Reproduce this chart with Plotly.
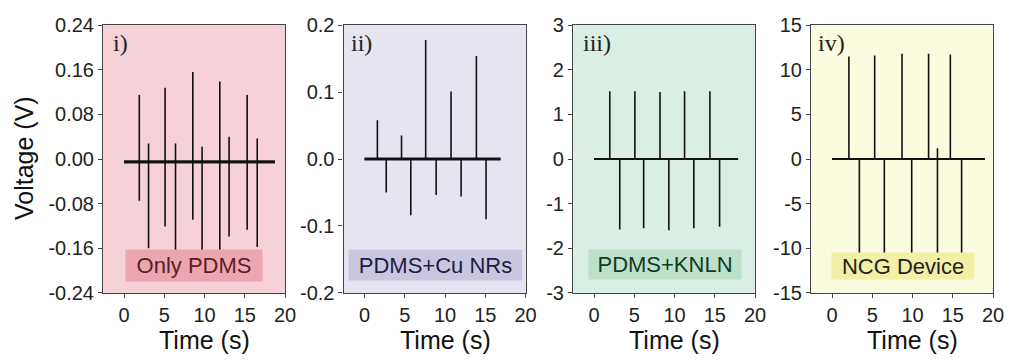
import plotly.graph_objects as go

W, H = 1010, 361

# ---------------- data ----------------
# Panel i) Only PDMS : each spike goes up then down at the same instant
p1_t = [1.9, 3.05, 5.1, 6.4, 8.55, 9.7, 11.9, 13.05, 15.3, 16.55]
p1_up = [0.115, 0.028, 0.128, 0.028, 0.156, 0.022, 0.139, 0.040, 0.115, 0.037]
p1_dn = [-0.075, -0.160, -0.121, -0.175, -0.109, -0.165, -0.165, -0.139, -0.127, -0.158]
p1_base = -0.005
p1_span = [0.0, 18.75]

# Panel ii) PDMS+Cu NRs
p2_t = [1.6, 2.7, 4.6, 5.75, 7.6, 8.9, 10.75, 12.0, 13.9, 15.1]
p2_v = [0.058, -0.050, 0.035, -0.084, 0.178, -0.054, 0.101, -0.056, 0.154, -0.090]
p2_base = 0.0
p2_span = [0.0, 16.9]

# Panel iii) PDMS+KNLN
p3_t = [1.96, 3.2, 5.08, 6.17, 8.2, 9.3, 11.25, 12.4, 14.4, 15.6]
p3_v = [1.52, -1.58, 1.52, -1.55, 1.50, -1.60, 1.52, -1.55, 1.52, -1.52]
p3_base = 0.0
p3_span = [0.0, 17.9]

# Panel iv) NCG Device
p4_t = [2.1, 3.4, 5.3, 6.5, 8.7, 9.9, 12.0, 13.1, 14.7, 16.1]
p4_v = [11.5, -11.0, 11.6, -11.0, 11.8, -11.0, 11.8, -11.0, 11.7, -11.0]
p4_small_t = [13.1]
p4_small_v = [1.2]
p4_base = 0.0
p4_span = [0.0, 19.0]

x_ticks = [0, 5, 10, 15, 20]
y1_ticks = [0.24, 0.16, 0.08, 0.0, -0.08, -0.16, -0.24]
y1_text = ["0.24", "0.16", "0.08", "0.00", "-0.08", "-0.16", "-0.24"]
y2_ticks = [0.2, 0.1, 0.0, -0.1, -0.2]
y2_text = ["0.2", "0.1", "0.0", "-0.1", "-0.2"]
y3_ticks = [3, 2, 1, 0, -1, -2, -3]
y3_text = ["3", "2", "1", "0", "-1", "-2", "-3"]
y4_ticks = [15, 10, 5, 0, -5, -10, -15]
y4_text = ["15", "10", "5", "0", "-5", "-10", "-15"]

panel_tags = ["i)", "ii)", "iii)", "iv)"]
panel_names = ["Only PDMS", "PDMS+Cu NRs", "PDMS+KNLN", "NCG Device"]
bg_colors = ["#f6d2d8", "#e7e4f2", "#dbeee3", "#fafbdf"]
box_colors = ["#eca6b1", "#c9c6e0", "#bde0ca", "#f1f0a6"]
box_text_colors = ["#5b1d27", "#1e1d3d", "#0f3b27", "#222222"]


# ---------------- build traces from event lists ----------------
def spikes_updown(ts, ups, dns, base, span):
    xs, ys = [span[0]], [base]
    for t, u, d in zip(ts, ups, dns):
        xs += [t, t, t, t]
        ys += [base, u, d, base]
    xs.append(span[1]); ys.append(base)
    return xs, ys


def spikes(ts, vs, base, span):
    xs, ys = [span[0]], [base]
    for t, v in zip(ts, vs):
        xs += [t, t, t]
        ys += [base, v, base]
    xs.append(span[1]); ys.append(base)
    return xs, ys


traces = [
    spikes_updown(p1_t, p1_up, p1_dn, p1_base, p1_span),
    spikes(p2_t, p2_v, p2_base, p2_span),
    spikes(p3_t, p3_v, p3_base, p3_span),
    spikes(p4_t + p4_small_t, p4_v + p4_small_v, p4_base, p4_span),
]
base_lines = [(p1_span, p1_base, 3.2), (p2_span, p2_base, 3.0), (p3_span, p3_base, 1.8), (p4_span, p4_base, 1.8)]


def px(xp):
    return xp / W


def py(yp):
    return 1 - yp / H


# ---------------- layout geometry (reference pixels) ----------------
x0_px = [124.0, 364.5, 594.0, 832.0]   # pixel of t = 0 in each panel
px_per_s = 8.05
xr = [-2.6, 20.05]
top_px, bot_px = 25, 293
ydom = [py(bot_px), py(top_px)]

fig = go.Figure()
yspecs = [
    ([-0.2405, 0.2405], y1_ticks, y1_text),
    ([-0.2004, 0.2004], y2_ticks, y2_text),
    ([-3.004, 3.004], y3_ticks, y3_text),
    ([-15.02, 15.02], y4_ticks, y4_text),
]
box_geo = [  # (x_left, x_right, y_top, y_bottom) in pixels
    (126, 262, 250, 281),
    (349, 522, 250, 280),
    (589, 741, 250, 279),
    (832, 974, 253, 279),
]
tag_x = [111, 349, 581, 816]

for i in range(4):
    ax = "" if i == 0 else str(i + 1)
    xs, ys = traces[i]
    (sp, b, wdt) = base_lines[i]
    fig.add_trace(go.Scatter(x=sp, y=[b, b], mode="lines",
                             line=dict(color="#1a1a1a", width=wdt),
                             xaxis="x" + ax, yaxis="y" + ax, showlegend=False, hoverinfo="skip"))
    fig.add_trace(go.Scatter(x=xs, y=ys, mode="lines",
                             line=dict(color="#111111", width=1.6),
                             xaxis="x" + ax, yaxis="y" + ax, showlegend=False))
    left = x0_px[i] + xr[0] * px_per_s
    right = x0_px[i] + xr[1] * px_per_s
    yr, yt, ytt = yspecs[i]
    fig.layout["xaxis" + ax] = dict(
        domain=[px(left), px(right)], range=xr, anchor="y" + ax, automargin=False,
        tickvals=x_ticks, ticks="outside", ticklen=4, tickcolor="#444",
        showline=True, mirror=True, linecolor="#444", linewidth=1.2,
        showgrid=False, zeroline=False, ticklabeloverflow="allow",
        tickfont=dict(family="Liberation Sans", size=20, color="#222"),
    )
    fig.layout["yaxis" + ax] = dict(
        domain=ydom, range=yr, anchor="x" + ax, automargin=False,
        tickvals=yt, ticktext=ytt, ticks="outside", ticklen=4, tickcolor="#444",
        showline=True, mirror=True, linecolor="#444", linewidth=1.2,
        showgrid=False, zeroline=False,
        tickfont=dict(family="Liberation Sans", size=20, color="#222"),
    )
    # panel background
    fig.add_shape(type="rect", xref="x" + ax + " domain", yref="y" + ax + " domain",
                  x0=0, x1=1, y0=0, y1=1, fillcolor=bg_colors[i], line=dict(width=0), layer="below")
    # x-axis title
    fig.add_annotation(x=px(x0_px[i] + 10 * px_per_s), y=py(340), xref="paper", yref="paper",
                       xanchor="center", yanchor="middle", showarrow=False, text="Time (s)",
                       font=dict(family="Liberation Sans", size=25, color="#111"))
    # name box
    bl, br, bt, bb = box_geo[i]
    fig.add_annotation(x=px((bl + br) / 2), y=py((bt + bb) / 2), xref="paper", yref="paper",
                       xanchor="center", yanchor="middle", showarrow=False,
                       width=br - bl, height=bb - bt, borderpad=0, bgcolor=box_colors[i],
                       text=panel_names[i],
                       font=dict(family="Liberation Sans", size=22, color=box_text_colors[i]))
    # panel tag
    fig.add_annotation(x=px(tag_x[i]), y=py(43), xref="paper", yref="paper",
                       xanchor="left", yanchor="middle", showarrow=False,
                       text=panel_tags[i],
                       font=dict(family="Liberation Serif", size=24, color="#222"))

fig.add_annotation(x=px(24), y=py(158), xref="paper", yref="paper", textangle=-90,
                   xanchor="center", yanchor="middle", showarrow=False, text="Voltage (V)",
                   font=dict(family="Liberation Sans", size=25, color="#111"))

fig.update_layout(width=W, height=H, margin=dict(l=0, r=0, t=0, b=0, autoexpand=False),
                  paper_bgcolor="white", plot_bgcolor="rgba(0,0,0,0)", showlegend=False)

fig.write_html(
    "out.html",
    config={"displayModeBar": False},
    post_script="document.body.style.margin='0';"
                "document.documentElement.style.overflow='hidden';"
                "document.body.style.overflow='hidden';",
)
